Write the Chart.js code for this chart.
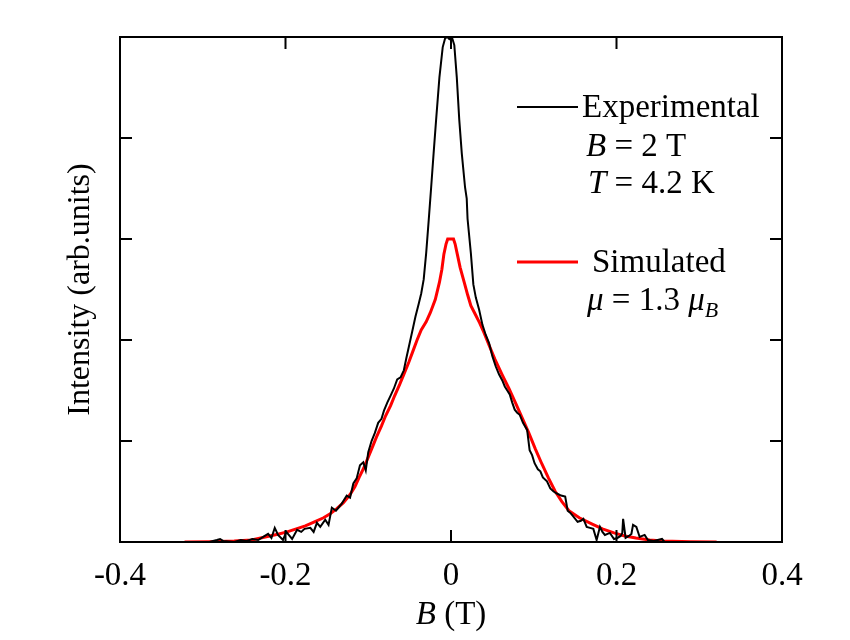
<!DOCTYPE html>
<html>
<head>
<meta charset="utf-8">
<script src="https://cdn.jsdelivr.net/npm/chart.js@4/dist/chart.umd.min.js"></script>
<style>
  body { margin: 0; background: #fff; }
  #wrap { width: 850px; height: 640px; }
</style>
</head>
<body>
<div id="wrap"><canvas id="profile"></canvas></div>
<script>
// measured curve (B in tesla, intensity in arb. units)
const expB = [-0.292, -0.283, -0.279, -0.275, -0.262, -0.254, -0.247, -0.240, -0.233, -0.227, -0.221, -0.217, -0.213, -0.209, -0.203, -0.199, -0.192, -0.186, -0.181, -0.177, -0.170, -0.166, -0.162, -0.158, -0.152, -0.148, -0.144, -0.139, -0.132, -0.126, -0.122, -0.118, -0.114, -0.110, -0.106, -0.103, -0.100, -0.096, -0.092, -0.088, -0.084, -0.081, -0.077, -0.073, -0.069, -0.065, -0.061, -0.057, -0.054, -0.051, -0.047, -0.043, -0.039, -0.036, -0.033, -0.030, -0.027, -0.024, -0.021, -0.018, -0.014, -0.010, -0.007, -0.004, -0.002, 0.001, 0.004, 0.007, 0.010, 0.013, 0.017, 0.019, 0.020, 0.024, 0.027, 0.030, 0.034, 0.038, 0.042, 0.046, 0.050, 0.054, 0.058, 0.062, 0.065, 0.068, 0.071, 0.074, 0.077, 0.080, 0.083, 0.087, 0.092, 0.095, 0.098, 0.101, 0.105, 0.108, 0.111, 0.116, 0.120, 0.124, 0.128, 0.133, 0.138, 0.141, 0.144, 0.147, 0.153, 0.157, 0.160, 0.164, 0.168, 0.172, 0.176, 0.180, 0.183, 0.186, 0.192, 0.197, 0.201, 0.205, 0.207, 0.208, 0.211, 0.215, 0.218, 0.220, 0.224, 0.228, 0.234, 0.238, 0.245, 0.255, 0.258]
const expI = [0.00, 0.02, 0.03, 0.01, 0.00, 0.02, 0.01, 0.03, 0.02, 0.05, 0.08, 0.04, 0.14, 0.07, 0.02, 0.10, 0.03, 0.12, 0.10, 0.13, 0.14, 0.10, 0.19, 0.15, 0.22, 0.17, 0.34, 0.31, 0.38, 0.46, 0.44, 0.58, 0.63, 0.76, 0.79, 0.71, 0.89, 1.00, 1.08, 1.18, 1.22, 1.30, 1.38, 1.45, 1.52, 1.61, 1.63, 1.70, 1.82, 1.93, 2.08, 2.23, 2.36, 2.46, 2.60, 2.86, 3.18, 3.51, 3.85, 4.18, 4.60, 4.90, 4.99, 5.00, 4.98, 5.00, 4.92, 4.60, 4.18, 3.85, 3.51, 3.40, 3.20, 2.86, 2.55, 2.42, 2.30, 2.15, 2.05, 1.97, 1.84, 1.74, 1.66, 1.60, 1.54, 1.50, 1.46, 1.38, 1.31, 1.28, 1.26, 1.18, 1.11, 0.91, 0.86, 0.78, 0.72, 0.70, 0.64, 0.60, 0.53, 0.50, 0.48, 0.46, 0.45, 0.31, 0.29, 0.26, 0.20, 0.21, 0.23, 0.15, 0.14, 0.13, 0.02, 0.15, 0.10, 0.07, 0.09, 0.03, 0.04, 0.06, 0.09, 0.23, 0.04, 0.06, 0.08, 0.17, 0.15, 0.05, 0.07, 0.02, 0.01, 0.03, 0.00]

// simulated curve
const simB = [-0.322, -0.290, -0.262, -0.241, -0.230, -0.219, -0.208, -0.198, -0.187, -0.176, -0.165, -0.154, -0.146, -0.138, -0.130, -0.122, -0.116, -0.111, -0.105, -0.100, -0.095, -0.090, -0.084, -0.079, -0.073, -0.068, -0.062, -0.057, -0.051, -0.046, -0.041, -0.036, -0.030, -0.025, -0.019, -0.014, -0.011, -0.0086, -0.006, -0.004, 0.003, 0.005, 0.0076, 0.011, 0.016, 0.020, 0.024, 0.029, 0.0346, 0.040, 0.0454, 0.053, 0.0616, 0.070, 0.0778, 0.086, 0.094, 0.102, 0.110, 0.118, 0.126, 0.134, 0.1425, 0.155, 0.170, 0.183, 0.197, 0.210, 0.2235, 0.240, 0.256, 0.290, 0.321]
const simI = [0.000, 0.003, 0.01, 0.02, 0.04, 0.06, 0.08, 0.10, 0.13, 0.16, 0.20, 0.24, 0.28, 0.33, 0.39, 0.47, 0.55, 0.64, 0.74, 0.84, 0.94, 1.04, 1.15, 1.25, 1.35, 1.45, 1.56, 1.66, 1.78, 1.89, 2.00, 2.10, 2.18, 2.27, 2.40, 2.57, 2.70, 2.85, 2.95, 3.00, 3.00, 2.95, 2.85, 2.72, 2.57, 2.45, 2.34, 2.26, 2.17, 2.07, 1.96, 1.81, 1.66, 1.52, 1.38, 1.23, 1.08, 0.92, 0.77, 0.63, 0.50, 0.40, 0.31, 0.24, 0.18, 0.13, 0.09, 0.06, 0.04, 0.02, 0.01, 0.003, 0.000]

const xTicks = [-0.4, -0.2, 0, 0.2, 0.4]
const yLabel = 'Intensity (arb.units)'

const SERIF = '"Liberation Serif", "Times New Roman", serif'
const FS = 33

function pairs (xs, ys) {
  return xs.map((v, i) => ({ x: v, y: ys[i] }))
}

// draws a line of text made of runs with their own font
function runs (ctx, parts, x, y) {
  let cx = x
  parts.forEach(p => {
    ctx.font = p.f
    ctx.fillText(p.t, cx, y + (p.dy || 0))
    cx += ctx.measureText(p.t).width
  })
}

const decorations = {
  id: 'decorations',
  afterDraw (chart) {
    const { ctx, chartArea: a, scales: { x, y } } = chart
    ctx.save()
    ctx.strokeStyle = '#000'
    ctx.lineWidth = 2
    ctx.strokeRect(a.left, a.top, a.right - a.left, a.bottom - a.top)

    const tick = 12
    ctx.beginPath()
    x.ticks.forEach(t => {
      const px = x.getPixelForValue(t.value)
      if (px <= a.left + 2 || px >= a.right - 2) return
      ctx.moveTo(px, a.bottom); ctx.lineTo(px, a.bottom - tick)
      ctx.moveTo(px, a.top); ctx.lineTo(px, a.top + tick)
    })
    y.ticks.forEach(t => {
      const py = y.getPixelForValue(t.value)
      if (py <= a.top + 2 || py >= a.bottom - 2) return
      ctx.moveTo(a.left, py); ctx.lineTo(a.left + tick, py)
      ctx.moveTo(a.right, py); ctx.lineTo(a.right - tick, py)
    })
    ctx.stroke()

    // legend / annotation block
    const n = FS + 'px ' + SERIF
    const it = 'italic ' + FS + 'px ' + SERIF
    const sub = 'italic 22px ' + SERIF
    ctx.fillStyle = '#000'
    ctx.textBaseline = 'alphabetic'
    ctx.textAlign = 'left'

    ctx.lineWidth = 2
    ctx.strokeStyle = '#000'
    ctx.beginPath(); ctx.moveTo(517, 107); ctx.lineTo(578, 107); ctx.stroke()
    runs(ctx, [{ t: 'Experimental', f: n }], 582, 117)
    runs(ctx, [{ t: 'B', f: it }, { t: ' = 2 T', f: n }], 586, 156)
    runs(ctx, [{ t: 'T', f: it }, { t: ' = 4.2 K', f: n }], 588, 193)

    ctx.lineWidth = 3
    ctx.strokeStyle = '#ff0000'
    ctx.beginPath(); ctx.moveTo(517, 262); ctx.lineTo(578, 262); ctx.stroke()
    runs(ctx, [{ t: 'Simulated', f: n }], 592, 272)
    runs(ctx, [{ t: 'μ', f: it }, { t: ' = 1.3 ', f: n }, { t: 'μ', f: it }, { t: 'B', f: sub, dy: 7 }], 587, 310)

    // x axis title
    ctx.font = it
    const w1 = ctx.measureText('B').width
    ctx.font = n
    const w2 = ctx.measureText(' (T)').width
    const cx = x.getPixelForValue(0) - (w1 + w2) / 2
    runs(ctx, [{ t: 'B', f: it }, { t: ' (T)', f: n }], cx, 624)
    ctx.restore()
  }
}

new Chart(document.getElementById('profile'), {
  type: 'line',
  data: {
    datasets: [
      {
        label: 'Experimental',
        data: pairs(expB, expI),
        borderColor: '#000',
        borderWidth: 2,
        pointRadius: 0,
        tension: 0,
        order: 1
      },
      {
        label: 'Simulated',
        data: pairs(simB, simI),
        borderColor: '#ff0000',
        borderWidth: 3,
        pointRadius: 0,
        tension: 0,
        order: 2
      }
    ]
  },
  options: {
    responsive: true,
    maintainAspectRatio: false,
    animation: false,
    layout: { padding: { top: 37, right: 68, left: 0, bottom: 0 } },
    plugins: {
      legend: { display: false },
      tooltip: { enabled: false }
    },
    scales: {
      x: {
        type: 'linear',
        min: -0.4,
        max: 0.4,
        afterFit: s => { s.height = 98 },
        afterBuildTicks: s => { s.ticks = xTicks.map(v => ({ value: v })) },
        grid: { display: false, drawTicks: false },
        border: { display: false },
        ticks: {
          color: '#000',
          padding: 15,
          maxRotation: 0,
          font: { family: SERIF, size: FS },
          callback: v => v === 0 ? '0' : (Math.round(v * 10) / 10).toFixed(1)
        }
      },
      y: {
        min: 0,
        max: 5,
        afterFit: s => { s.width = 120 },
        grid: { display: false, drawTicks: false },
        border: { display: false },
        ticks: { display: false, stepSize: 1 },
        title: {
          display: true,
          text: yLabel,
          color: '#000',
          font: { family: SERIF, size: 32 },
          padding: { top: 61, bottom: 0 }
        }
      }
    }
  },
  plugins: [decorations]
})
</script>
</body>
</html>
